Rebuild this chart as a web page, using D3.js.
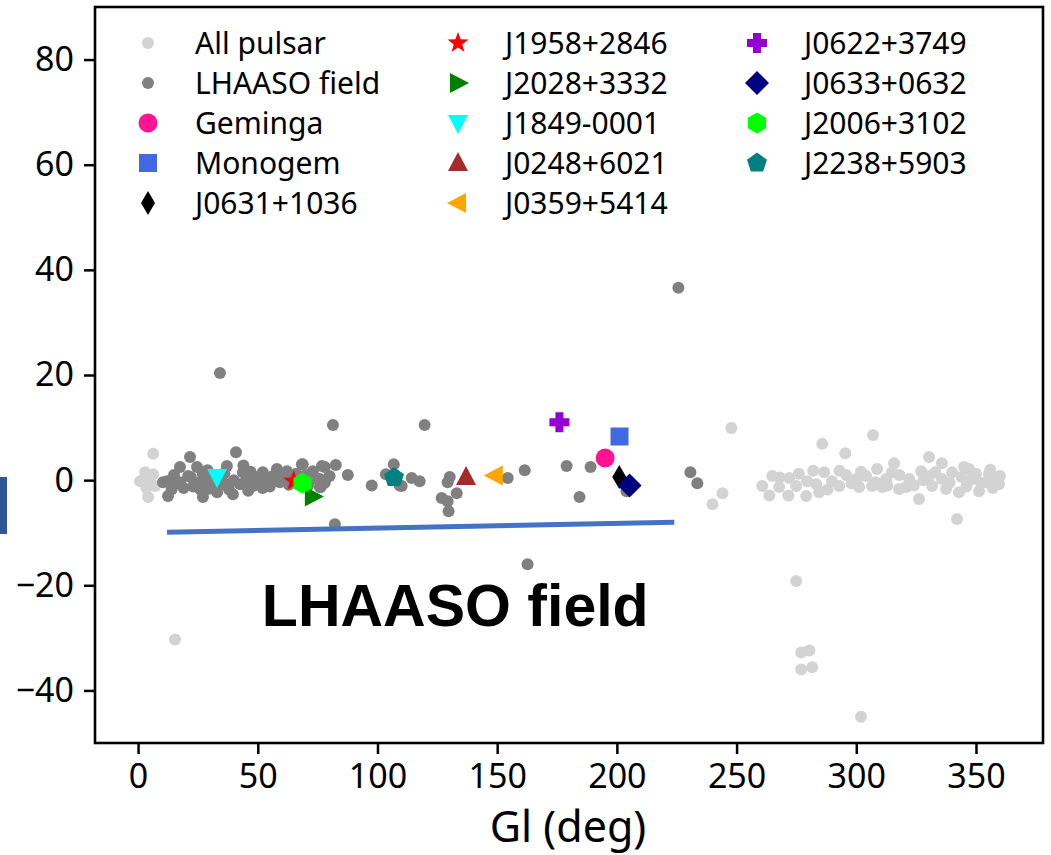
<!DOCTYPE html>
<html>
<head>
<meta charset="utf-8">
<script src="https://cdn.jsdelivr.net/npm/d3@7"></script>
<style>
  body { margin: 0; background: #fff; }
  text { font-family: 'Noto Sans', 'DejaVu Sans', sans-serif; }
</style>
</head>
<body>
<div id="chart"></div>
<script>
// all known pulsars (gl, gb) outside / around the LHAASO field
var allL = [6.3, 0.8, 6.3, 7.1, 4.2, 2.9, 3.5, 5.0, 15.4,
  247.8, 239.9, 244.1, 274.9, 277.0, 280.4, 277.0, 281.6, 302.0,
  285.8, 295.4, 330.4, 315.8, 335.8, 307.0, 260.7, 263.7, 264.9, 272.0, 271.6,
  279.5, 279.1, 284.5, 286.6, 289.9, 295.8, 300.0, 304.1, 308.7, 306.6, 312.5,
  315.0, 317.9, 322.1, 327.1, 326.2, 330.4, 331.7, 335.8, 340.0, 342.9, 347.1,
  348.4, 351.3, 355.4, 358.4, 359.6, 354.2, 337.5, 320.8, 310.8, 301.2, 292.9,
  283.3, 274.9, 267.8, 342.1,
  268, 276, 282, 288, 293, 298, 302, 308, 313, 318, 324, 328, 333, 339, 344,
  346, 350, 352, 357, 356, 360, 345]
var allB = [5.0, -0.2, 1.1, -1.1, -3.2, 1.5, -1.5, 0.2, -30.3,
  9.9, -4.6, -2.5, -19.2, -32.8, -32.4, -36.0, -35.6, -45.0,
  6.9, 5.1, 4.4, 3.2, 3.2, 8.6, -1.1, -2.9, 0.8, 0.4, -2.9,
  -0.2, -3.0, -2.3, 1.5, -0.2, 1.0, 0.2, 0.8, 2.1, -1.1, 0.2,
  1.5, -1.7, 0.2, 1.7, -3.6, 0.8, -1.1, 0.2, 1.5, -2.3, 2.1,
  0.2, -2.1, 1.1, 0.2, -0.8, -0.4, -1.7, -1.3, -1.3, -1.3, -1.1,
  -0.8, -1.1, -1.3, -7.4,
  0.5, 1.2, 1.8, -1.8, 1.8, -0.6, 1.6, -0.4, -1.0, 1.0, -1.0, 0.0, 1.5, -0.5, 0.6,
  -1.2, 1.2, -0.5, -1.5, 2.0, 0.8, 2.5]

// pulsars inside the LHAASO field of view
var fieldL = [34.2, 225.7, 81.4, 119.7, 40.9, 82.2, 162.7, 230.7, 233.6, 161.5,
  179.0, 189.0, 184.4, 154.4, 114.3, 117.6, 110.1, 130.2, 129.3, 133.1,
  126.8, 129.3, 129.7, 204.0, 82.6, 87.6, 97.6, 106.8, 103.5, 109.3,
  76.3, 68.8, 78.0,
  12.5, 12.1, 17.5, 21.7, 24.6, 20.9, 27.1, 29.2, 37.1, 39.6,
  43.8, 48.0, 52.1, 56.3, 58.0, 62.2, 68.4, 73.0, 76.8, 75.9,
  75.9, 35.5, 25.9, 17.5, 10.4, 48.0, 53.8, 59.2, 64.7, 42.6, 33.0,
  15, 19, 23, 27, 30, 31, 36, 38, 40, 45, 46, 50, 55, 57, 61, 66, 70, 71, 74, 78, 80, 14, 33, 44,
  16, 22, 26, 29, 34, 47, 52, 58, 63, 67]
var fieldB = [20.4, 36.6, 10.5, 10.5, 5.3, -8.4, -16.0, 1.5, -0.6, 1.9,
  2.7, 2.5, -3.2, 0.4, 0.4, -0.2, -1.1, 0.6, -0.4, -2.5,
  -3.4, -4.0, -5.9, -2.1, 2.9, 1.0, -1.0, 3.0, 1.1, -1.0,
  -1.3, 3.0, 2.5,
  -3.0, -0.2, 2.5, 4.4, 2.5, 0.8, -3.2, -1.7, 2.7, -2.7,
  1.5, 0.8, 1.5, 0.8, 2.1, 1.7, 3.0, 1.7, 2.7, 0.2,
  -1.3, -0.4, -0.4, -0.4, -0.4, -1.1, -0.4, -0.4, 0.2, -0.8, 0.8,
  1.0, -1.5, -1.2, 1.2, 0.2, -1.5, 1.3, -1.8, 0.0, -0.2, -2.0, 0.3, -1.2, 0.0, 0.9, 1.2, 1.0, -1.0, 0.3, -0.5, 0.8, -1.8, -2.3, 2.8,
  -0.6, 0.6, -1.8, 1.9, -1.0, 1.6, -1.5, 1.2, -0.9, -0.2]

// highlighted sources
var srcNames = ['Geminga', 'Monogem', 'J0631+1036', 'J1958+2846', 'J2028+3332', 'J1849-0001',
  'J0248+6021', 'J0359+5414', 'J0622+3749', 'J0633+0632', 'J2006+3102', 'J2238+5903']
var srcL = [195.1, 201.1, 201.0, 65.0, 73.0, 33.0, 137.0, 149.0, 176.0, 205.3, 68.7, 106.9]
var srcB = [4.2, 8.3, 0.6, -0.2, -3.1, 0.6, 0.6, 0.9, 11.0, -1.0, -0.6, 0.5]
var srcColors = ['#ff1493', '#4169e1', '#000000', '#ff0000', '#008000', '#00ffff',
  '#a52a2a', '#ffa500', '#9400d3', '#000080', '#00ff00', '#008080']
var srcShapes = ['o', 's', 'd', '*', '>', 'v', '^', '<', 'P', 'D', 'h', 'p']

var xTicks = [0, 50, 100, 150, 200, 250, 300, 350]
var yTicks = [-40, -20, 0, 20, 40, 60, 80]

var width = 1051
var height = 855
var frame = { left: 95, right: 1043, top: 7, bottom: 743 }

var svg = d3
  .select('#chart')
  .append('svg')
  .attr('width', width)
  .attr('height', height)

svg.append('rect').attr('width', width).attr('height', height).attr('fill', '#fff')

var x = d3.scaleLinear().domain([-18, 378]).range([frame.left, frame.right])
var y = d3.scaleLinear().domain([-50, 90]).range([frame.bottom, frame.top])

function poly(pts) {
  return 'M' + pts.map(p => p[0].toFixed(2) + ',' + p[1].toFixed(2)).join('L') + 'Z'
}
function ngon(n, r, rot) {
  var pts = []
  for (var i = 0; i < n; i++) {
    var a = rot + (i * 2 * Math.PI) / n
    pts.push([r * Math.sin(a), -r * Math.cos(a)])
  }
  return pts
}

function markerPath(shape) {
  if (shape === 'o') return d3.symbol(d3.symbolCircle, Math.PI * 9.5 * 9.5)()
  if (shape === 's') return poly([[-9, -9], [9, -9], [9, 9], [-9, 9]])
  if (shape === 'D') return poly([[0, -12], [12, 0], [0, 12], [-12, 0]])
  if (shape === 'd') return poly([[0, -12], [7, 0], [0, 12], [-7, 0]])
  if (shape === '^') return poly([[0, -11], [10, 8], [-10, 8]])
  if (shape === 'v') return poly([[0, 11], [10, -8], [-10, -8]])
  if (shape === '>') return poly([[11, 0], [-8, 10], [-8, -10]])
  if (shape === '<') return poly([[-11, 0], [8, 10], [8, -10]])
  if (shape === '*') {
    var pts = []
    for (var i = 0; i < 10; i++) {
      var r = i % 2 === 0 ? 11 : 4.5
      var a = (i * Math.PI) / 5
      pts.push([r * Math.sin(a), -r * Math.cos(a)])
    }
    return poly(pts)
  }
  if (shape === 'P') {
    var a1 = 10, t = 4
    return poly([[-t, -a1], [t, -a1], [t, -t], [a1, -t], [a1, t], [t, t], [t, a1], [-t, a1], [-t, t], [-a1, t], [-a1, -t], [-t, -t]])
  }
  if (shape === 'h') return poly(ngon(6, 10.5, 0))
  if (shape === 'p') return poly(ngon(5, 10.5, 0))
}

// annotation bar on the left edge (cut off in the original)
svg.append('rect')
  .attr('x', 0).attr('y', 477).attr('width', 7).attr('height', 57)
  .attr('fill', '#2f5597')

var plot = svg.append('g')

// clip to axes
svg.append('clipPath').attr('id', 'clip')
  .append('rect')
  .attr('x', frame.left).attr('y', frame.top)
  .attr('width', frame.right - frame.left).attr('height', frame.bottom - frame.top)
plot.attr('clip-path', 'url(#clip)')

plot.selectAll('.allp')
  .data(d3.range(allL.length))
  .join('circle')
  .attr('class', 'allp')
  .attr('cx', i => x(allL[i]))
  .attr('cy', i => y(allB[i]))
  .attr('r', 6)
  .attr('fill', '#d3d3d3')

plot.selectAll('.field')
  .data(d3.range(fieldL.length))
  .join('circle')
  .attr('class', 'field')
  .attr('cx', i => x(fieldL[i]))
  .attr('cy', i => y(fieldB[i]))
  .attr('r', 6)
  .attr('fill', '#808080')

plot.selectAll('.src')
  .data(d3.range(srcNames.length))
  .join('path')
  .attr('class', 'src')
  .attr('d', i => markerPath(srcShapes[i]))
  .attr('transform', i => 'translate(' + x(srcL[i]) + ',' + y(srcB[i]) + ')')
  .attr('fill', i => srcColors[i])

// axes
var tickFmt = d => (d < 0 ? '\u2212' + Math.abs(d) : d)

var xAxis = svg.append('g')
  .attr('transform', 'translate(0,' + frame.bottom + ')')
  .call(d3.axisBottom(x).tickValues(xTicks).tickFormat(tickFmt).tickSize(11).tickPadding(10))
var yAxis = svg.append('g')
  .attr('transform', 'translate(' + frame.left + ',0)')
  .call(d3.axisLeft(y).tickValues(yTicks).tickFormat(tickFmt).tickSize(11).tickPadding(10))

;[xAxis, yAxis].forEach(function(ax) {
  ax.select('.domain').remove()
  ax.selectAll('line').attr('stroke', '#000').attr('stroke-width', 2.5)
  ax.selectAll('text')
    .attr('fill', '#000')
    .style('font-size', '34px')
    .style('font-family', 'Noto Sans')
})

svg.append('rect')
  .attr('x', frame.left).attr('y', frame.top)
  .attr('width', frame.right - frame.left).attr('height', frame.bottom - frame.top)
  .attr('fill', 'none').attr('stroke', '#000').attr('stroke-width', 2.6)

svg.append('text')
  .attr('x', 568)
  .attr('y', 842)
  .attr('text-anchor', 'middle')
  .style('font-size', '43px')
  .text('Gl (deg)')

// legend, 3 columns like matplotlib ncol=3
var legendItems = [
  { name: 'All pulsar', kind: 'dot', color: '#d3d3d3' },
  { name: 'LHAASO field', kind: 'dot', color: '#808080' }
].concat(srcNames.map((n, i) => ({ name: n, kind: srcShapes[i], color: srcColors[i] })))

var colX = [148, 458, 757]
var legend = svg.append('g')
legendItems.forEach(function(d, i) {
  var col = Math.floor(i / 5)
  var row = i % 5
  var g = legend.append('g')
    .attr('transform', 'translate(' + colX[col] + ',' + (43 + row * 40) + ')')
  if (d.kind === 'dot') {
    g.append('circle').attr('r', 6).attr('fill', d.color)
  } else {
    g.append('path').attr('d', markerPath(d.kind)).attr('fill', d.color)
  }
  g.append('text')
    .attr('x', 47)
    .attr('dy', '0.36em')
    .style('font-size', '30px')
    .text(d.name)
})

// LHAASO field annotation
svg.append('line')
  .attr('x1', x(12.1)).attr('y1', y(-9.9))
  .attr('x2', x(224)).attr('y2', y(-8.0))
  .attr('stroke', '#4472c4').attr('stroke-width', 5)

svg.append('text')
  .attr('x', x(51.7))
  .attr('y', y(-27.8))
  .style('font-family', 'Liberation Sans, Arial, sans-serif')
  .style('font-weight', 'bold')
  .style('font-size', '59px')
  .text('LHAASO field')
</script>
</body>
</html>
